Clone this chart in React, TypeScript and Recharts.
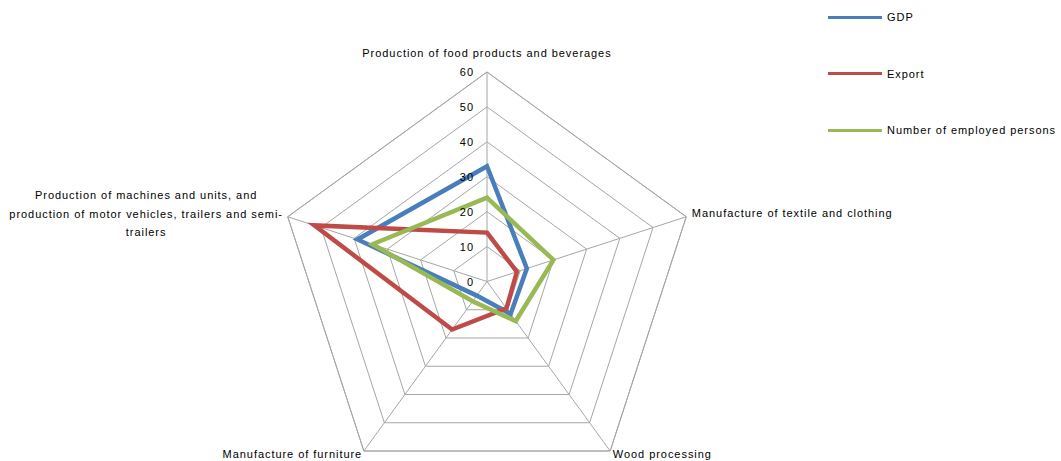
import React from "react"
import { Legend, PolarAngleAxis, PolarGrid, PolarRadiusAxis, Radar, RadarChart } from "recharts"

const categories = [
  "Production of food products and beverages",
  "Manufacture of textile and clothing",
  "Wood processing",
  "Manufacture of furniture",
  "Production of machines and units, and production of motor vehicles, trailers and semi-trailers",
]
const gdp = [33, 12, 11.5, 5, 39]
const exportShare = [14, 9, 9.5, 17, 52]
const employed = [24, 20, 14, 7, 34.5]
const radiusTicks = [0, 10, 20, 30, 40, 50, 60]
const seriesNames = ["GDP", "Export", "Number of employed persons"]

const data = categories.map((name, i) => ({
  name,
  gdp: gdp[i],
  export: exportShare[i],
  employed: employed[i],
}))

const FONT = "'Liberation Sans', Arial, sans-serif"
const textStyle = { fontFamily: FONT, fontSize: 11, fill: "#000", letterSpacing: 0.95 }

const AngleTick = (props: any) => {
  const { x, y, payload, index } = props
  if (index === 0) {
    return <text x={x} y={y - 7} textAnchor="middle" style={textStyle}>{payload.value}</text>
  }
  if (index === 1) {
    return <text x={x - 2} y={y + 3} textAnchor="start" style={textStyle}>{payload.value}</text>
  }
  if (index === 2) {
    return <text x={x - 2} y={y + 1} textAnchor="start" style={textStyle}>{payload.value}</text>
  }
  if (index === 3) {
    return <text x={x + 3} y={y + 1} textAnchor="end" style={textStyle}>{payload.value}</text>
  }
  const lines = [
    "Production of machines and units, and",
    "production of motor vehicles, trailers and semi-",
    "trailers",
  ]
  return (
    <text x={x - 134} y={y - 15} textAnchor="middle" style={textStyle}>
      {lines.map((l, i) => (
        <tspan key={i} x={x - 134} dy={i === 0 ? 0 : 18.5}>{l}</tspan>
      ))}
    </text>
  )
}

const RadiusTick = (props: any) => {
  const { x, y, payload } = props
  return (
    <text x={x - 13} y={y + 4} textAnchor="end" style={textStyle}>
      {payload.value}
    </text>
  )
}

const LegendContent = (props: any) => {
  const items = [...(props.payload || [])].sort(
    (a: any, b: any) => seriesNames.indexOf(a.value) - seriesNames.indexOf(b.value)
  )
  return (
    <div style={{ fontFamily: FONT, fontSize: 11, color: "#000", letterSpacing: 0.95 }}>
      {items.map((p: any, i: number) => (
        <div key={i} style={{ display: "flex", alignItems: "center", height: 56.5 }}>
          <div style={{ width: 54, height: 3, background: p.color, marginRight: 5 }} />
          <span style={{ whiteSpace: "nowrap" }}>{p.value}</span>
        </div>
      ))}
    </div>
  )
}

export default function App() {
  return (
    <div style={{ position: "absolute", left: 0, top: 0, width: 1061, height: 461, background: "#fff", overflow: "hidden" }}>
      <RadarChart width={1061} height={461} cx={487} cy={281.5} outerRadius={209.5} data={data}>
        <PolarGrid gridType="polygon" stroke="#a6a6a6" strokeWidth={1} />
        <PolarAngleAxis dataKey="name" tick={AngleTick} tickLine={false} axisLine={{ stroke: "#a6a6a6" }} />
        <PolarRadiusAxis
          angle={90}
          domain={[0, 60]}
          ticks={radiusTicks}
          tick={RadiusTick}
          axisLine={false}
          tickLine={false}
        />
        <Radar name={seriesNames[0]} dataKey="gdp" stroke="#4a7ebb" strokeWidth={4.5} fill="none" fillOpacity={0} dot={false} isAnimationActive={false} />
        <Radar name={seriesNames[1]} dataKey="export" stroke="#be4b48" strokeWidth={4.5} fill="none" fillOpacity={0} dot={false} isAnimationActive={false} />
        <Radar name={seriesNames[2]} dataKey="employed" stroke="#98b954" strokeWidth={4.5} fill="none" fillOpacity={0} dot={false} isAnimationActive={false} />
        <Legend
          layout="vertical"
          content={LegendContent}
          wrapperStyle={{ position: "absolute", left: 828, top: -11, width: 240 }}
        />
      </RadarChart>
    </div>
  )
}
